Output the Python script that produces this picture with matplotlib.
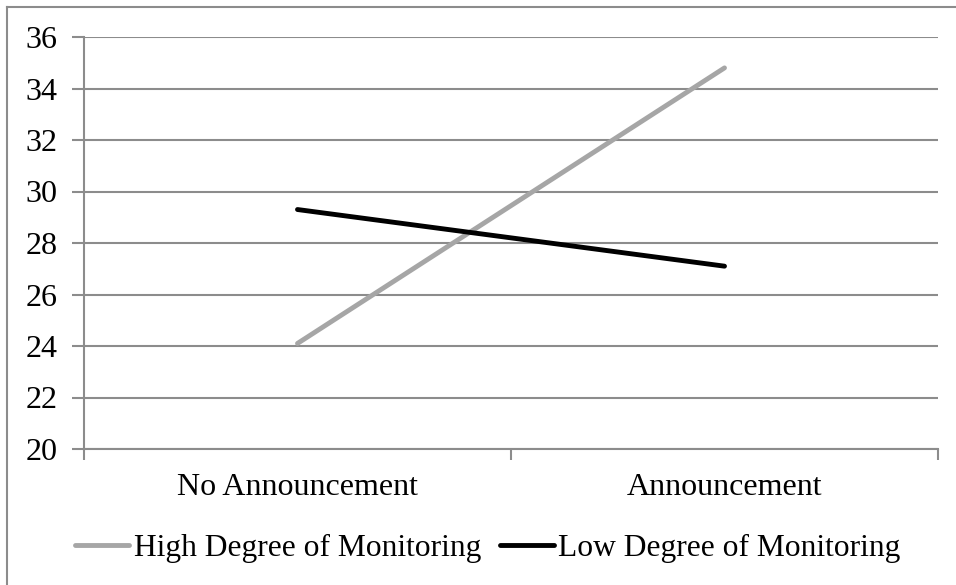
import matplotlib.pyplot as plt
from matplotlib.lines import Line2D

conditions = ['No Announcement', 'Announcement']
high_monitoring = [24.1, 34.8]
low_monitoring = [29.3, 27.1]
y_ticks = [20, 22, 24, 26, 28, 30, 32, 34, 36]

plt.rcParams['font.family'] = ['Liberation Serif', 'DejaVu Serif']

fig = plt.figure(figsize=(9.56, 5.85), dpi=100)
W, H = 956, 585
ax = fig.add_axes([84 / W, 1 - 449 / H, (938 - 84) / W, (449 - 37) / H])

grid_color = '#8c8c8c'
x = [0.5, 1.5]
ax.plot(x, high_monitoring, color='#a6a6a6', linewidth=3.5,
        solid_capstyle='round', label='High Degree of Monitoring', zorder=3)
ax.plot(x, low_monitoring, color='black', linewidth=3.5,
        solid_capstyle='round', label='Low Degree of Monitoring', zorder=3)

ax.set_xlim(0, 2)
ax.set_ylim(20, 36)
ax.set_yticks(y_ticks)
ax.set_yticklabels([str(v) for v in y_ticks], fontsize=23)
ax.set_xticks([0, 1, 2])
ax.set_xticklabels([])
ax.set_xticks(x, minor=True)
ax.set_xticklabels(conditions, minor=True, fontsize=23)
ax.tick_params(axis='x', which='minor', length=0, pad=17)
ax.tick_params(axis='x', which='major', length=8, width=1.5, color=grid_color)
ax.tick_params(axis='y', length=9, width=1.5, color=grid_color, pad=10)

ax.grid(axis='y', color=grid_color, linewidth=1.5)
for side in ['top', 'right']:
    ax.spines[side].set_visible(False)
for side in ['left', 'bottom']:
    ax.spines[side].set_color(grid_color)
    ax.spines[side].set_linewidth(1.5)

handles = [Line2D([], [], color='#a6a6a6', linewidth=3.5, solid_capstyle='round'),
           Line2D([], [], color='black', linewidth=3.5, solid_capstyle='round')]
fig.legend(handles, ['High Degree of Monitoring', 'Low Degree of Monitoring'],
           loc='center', bbox_to_anchor=(488 / W, 1 - 548 / H), ncol=2,
           frameon=False, fontsize=22.7, handlelength=1.7, handletextpad=0.15,
           columnspacing=0.6)

# outer chart frame
fig.add_artist(Line2D([7 / W, 7 / W], [0, 1 - 7 / H], color=grid_color, linewidth=1.5))
fig.add_artist(Line2D([7 / W, 1], [1 - 7 / H, 1 - 7 / H], color=grid_color, linewidth=1.5))

fig.savefig('out.png', dpi=100)
